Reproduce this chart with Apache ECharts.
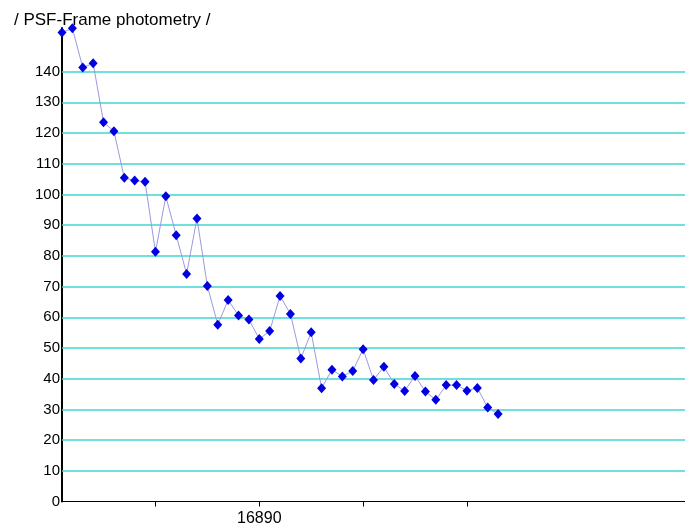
<!DOCTYPE html>
<html>
<head>
<meta charset="utf-8">
<script src="https://cdn.jsdelivr.net/npm/echarts@6/dist/echarts.min.js"></script>
<style>
  html, body { margin: 0; padding: 0; background: #fff; }
  #chart { width: 685px; height: 531px; }
</style>
</head>
<body>
<div id="chart"></div>
<script>
// Observation dates (JD - 2440000) and measured PSF-frame photometry values
const days = [
  16871, 16872, 16873, 16874, 16875, 16876, 16877, 16878, 16879, 16880,
  16881, 16882, 16883, 16884, 16885, 16886, 16887, 16888, 16889, 16890,
  16891, 16892, 16893, 16894, 16895, 16896, 16897, 16898, 16899, 16900,
  16901, 16902, 16903, 16904, 16905, 16906, 16907, 16908, 16909, 16910,
  16911, 16912, 16913
];
const flux = [
  152.7, 154.1, 141.3, 142.7, 123.5, 120.6, 105.4, 104.5, 104.1, 81.3,
  99.4, 86.7, 74.1, 92.2, 70.2, 57.6, 65.6, 60.6, 59.3, 52.9,
  55.5, 66.9, 61.1, 46.6, 55.1, 36.9, 42.9, 40.7, 42.5, 49.6,
  39.6, 43.9, 38.3, 36.0, 40.9, 35.8, 33.1, 37.9, 37.9, 36.1,
  37.0, 30.6, 28.5
];
const yGridValues = [10, 20, 30, 40, 50, 60, 70, 80, 90, 100, 110, 120, 130, 140];
const xTickValues = [16880, 16890, 16900, 16910];
const xLabelValues = [16890];
const titleText = '/ PSF-Frame photometry /';

const chart = echarts.init(document.getElementById('chart'), null, { renderer: 'canvas' });

chart.setOption({
  animation: false,
  backgroundColor: '#ffffff',
  title: {
    text: titleText,
    left: 9,
    top: 7,
    textStyle: { fontFamily: 'Liberation Sans', fontSize: 17, fontWeight: 'normal', color: '#000' }
  },
  grid: { left: 62, right: 0, top: 28, bottom: 29.5, containLabel: false },
  xAxis: {
    type: 'value',
    min: 16871,
    max: 16931,
    axisLine: { show: true, onZero: false, lineStyle: { color: '#000', width: 1.2 } },
    axisTick: { show: true, length: 5, customValues: xTickValues, lineStyle: { color: '#000', width: 1 } },
    axisLabel: {
      customValues: xLabelValues,
      margin: 9,
      fontFamily: 'Liberation Sans', fontSize: 16, color: '#000',
      formatter: v => String(v)
    },
    splitLine: { show: false }
  },
  yAxis: {
    type: 'value',
    min: 0,
    max: 154.2,
    interval: 10,
    axisLine: { show: true, lineStyle: { color: '#000', width: 2 } },
    axisTick: { show: false },
    axisLabel: {
      margin: 2,
      fontFamily: 'Liberation Sans', fontSize: 15, color: '#000',
      formatter: v => (v <= 140 && Math.abs(v - Math.round(v / 10) * 10) < 1e-6) ? String(v) : ''
    },
    splitLine: { show: false }
  },
  series: [{
    type: 'line',
    data: days.map((d, i) => [d, flux[i]]),
    symbol: 'diamond',
    symbolSize: [9, 10],
    itemStyle: { color: '#0000e0' },
    lineStyle: { color: '#9a9ae0', width: 1 },
    clip: false,
    z: 3,
    markLine: {
      silent: true,
      symbol: 'none',
      label: { show: false },
      lineStyle: { color: '#3fd4d4', width: 1.6, type: 'solid' },
      data: yGridValues.map(v => ({ yAxis: v })),
      z: 1
    }
  }]
});
</script>
</body>
</html>
